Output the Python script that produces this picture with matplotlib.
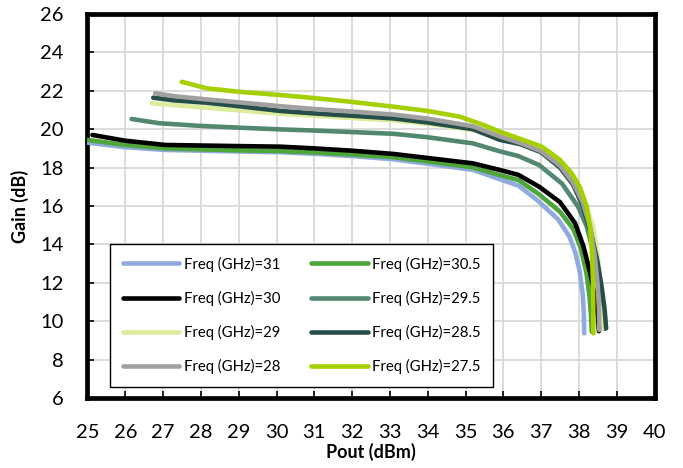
#!/usr/bin/env python3
"""
Gain vs Pout 曲线图（不同频点）

读取各频点的增益-输出功率数据，绘制压缩曲线并输出 out.png。
"""

import matplotlib

matplotlib.use("Agg")
import matplotlib.pyplot as plt

plt.rcParams["font.family"] = ["Lato", "DejaVu Sans"]

# ---------------- 数据 ----------------
freq_labels = [
    "Freq (GHz)=31",
    "Freq (GHz)=30.5",
    "Freq (GHz)=30",
    "Freq (GHz)=29.5",
    "Freq (GHz)=29",
    "Freq (GHz)=28.5",
    "Freq (GHz)=28",
    "Freq (GHz)=27.5",
]

pout_31 = [25.0, 26.0, 27.05, 28.0, 29.0, 30.1, 31.0, 32.0, 33.1, 34.0, 35.2,
           35.9, 36.4, 36.9, 37.45, 37.75, 37.9, 38.02, 38.1, 38.13, 38.14]
gain_31 = [19.3, 19.06, 18.92, 18.88, 18.84, 18.8, 18.72, 18.6, 18.43, 18.2, 17.88,
           17.4, 17.06, 16.3, 15.3, 14.4, 13.6, 12.6, 11.4, 10.4, 9.37]

pout_30p5 = [25.0, 26.0, 27.05, 28.0, 29.0, 30.1, 31.0, 32.0, 33.1, 34.0, 35.2,
             35.9, 36.4, 36.95, 37.5, 37.85, 38.05, 38.2, 38.28, 38.32, 38.34]
gain_30p5 = [19.44, 19.18, 19.0, 18.95, 18.9, 18.86, 18.79, 18.68, 18.54, 18.32, 18.01,
             17.61, 17.35, 16.6, 15.7, 14.8, 13.8, 12.5, 11.3, 10.3, 9.45]

pout_30 = [25.13, 26.0, 27.05, 28.0, 29.0, 30.1, 31.0, 32.0, 33.1, 34.0, 35.2,
           35.9, 36.4, 36.95, 37.5, 37.9, 38.12, 38.3, 38.42, 38.5, 38.53]
gain_30 = [19.7, 19.4, 19.18, 19.15, 19.12, 19.09, 19.0, 18.88, 18.71, 18.5, 18.22,
           17.88, 17.62, 17.0, 16.2, 15.1, 13.9, 12.5, 11.3, 10.3, 9.48]

pout_29p5 = [26.17, 26.9, 28.0, 29.0, 30.1, 31.0, 32.0, 33.1, 34.0, 35.2, 35.9,
             36.4, 36.95, 37.55, 37.98, 38.21, 38.4, 38.52, 38.6, 38.65, 38.68]
gain_29p5 = [20.53, 20.31, 20.17, 20.08, 19.99, 19.93, 19.85, 19.76, 19.58, 19.26, 18.85,
             18.6, 18.13, 17.17, 15.96, 14.92, 13.5, 12.2, 11.0, 10.2, 9.6]

pout_29 = [26.7, 27.3, 28.15, 29.0, 30.1, 31.0, 32.0, 33.1, 34.0, 35.2, 35.9,
           36.45, 37.0, 37.5, 37.85, 38.15, 38.38, 38.5, 38.58, 38.61, 38.63]
gain_29 = [21.35, 21.25, 21.12, 20.98, 20.8, 20.7, 20.58, 20.46, 20.28, 19.96, 19.55,
           19.25, 18.85, 18.15, 17.3, 16.2, 14.9, 13.4, 11.8, 10.6, 9.63]

pout_28p5 = [26.74, 27.3, 28.15, 29.0, 30.1, 31.0, 32.0, 33.1, 34.0, 35.2, 35.9,
             36.45, 37.0, 37.5, 37.85, 38.1, 38.32, 38.48, 38.6, 38.68, 38.72]
gain_28p5 = [21.64, 21.5, 21.38, 21.2, 20.95, 20.82, 20.7, 20.56, 20.35, 20.0, 19.45,
             19.22, 18.8, 18.0, 17.1, 16.0, 14.6, 13.2, 11.8, 10.6, 9.63]

pout_28 = [26.79, 27.3, 28.15, 29.0, 30.1, 31.0, 32.0, 33.1, 34.0, 35.2, 35.9,
           36.45, 37.0, 37.5, 37.85, 38.1, 38.3, 38.42, 38.5, 38.53, 38.54]
gain_28 = [21.87, 21.72, 21.55, 21.4, 21.2, 21.05, 20.92, 20.76, 20.55, 20.15, 19.63,
           19.28, 18.85, 18.1, 17.2, 16.2, 14.9, 13.4, 11.8, 10.6, 9.54]

pout_27p5 = [27.49, 28.15, 29.0, 30.1, 31.0, 32.0, 33.1, 34.0, 34.85, 35.5, 35.91,
             36.44, 37.02, 37.5, 37.81, 38.02, 38.21, 38.3, 38.35, 38.37, 38.38, 38.38]
gain_27p5 = [22.47, 22.13, 21.95, 21.78, 21.62, 21.42, 21.17, 20.95, 20.65, 20.2, 19.87,
             19.5, 19.09, 18.4, 17.7, 17.0, 15.96, 14.8, 13.4, 12.15, 10.8, 9.37]

x_ticks = list(range(25, 41))
y_ticks = list(range(6, 27, 2))

# ---------------- 样式 ----------------
colors = ["#8FAADC", "#4EA53A", "#000000", "#528870",
          "#DCEC9E", "#254E4A", "#A0A0A0", "#A5D000"]

series = [
    (pout_31, gain_31),
    (pout_30p5, gain_30p5),
    (pout_30, gain_30),
    (pout_29p5, gain_29p5),
    (pout_29, gain_29),
    (pout_28p5, gain_28p5),
    (pout_28, gain_28),
    (pout_27p5, gain_27p5),
]

fig = plt.figure(figsize=(6.83, 4.68), dpi=100)
ax = fig.add_axes([0.1281, 0.1496, 0.8302, 0.8205])

# 绘制曲线
handles = []
for i, (px, gy) in enumerate(series):
    (line,) = ax.plot(px, gy, color=colors[i], linewidth=3.3,
                      solid_capstyle="round", label=freq_labels[i], zorder=3 + i)
    handles.append(line)

ax.set_xlim(25, 40)
ax.set_ylim(6, 26)
ax.set_xticks(x_ticks)
ax.set_yticks(y_ticks)

ax.grid(True, color="#D9D9D9", linewidth=1.3, zorder=0)
ax.set_axisbelow(True)

for sp in ax.spines.values():
    sp.set_linewidth(3.4)
    sp.set_color("black")

ax.tick_params(axis="both", direction="in", length=5, width=1.2,
               labelsize=14.5, pad=17)
ax.tick_params(axis="x", pad=19)

ax.set_xlabel("Pout (dBm)", fontsize=13, fontweight="bold", labelpad=1)
ax.set_ylabel("Gain (dB)", fontsize=13, fontweight="bold", labelpad=8)

# 图例：两列，列序与原图一致
order = [0, 2, 4, 6, 1, 3, 5, 7]
leg = ax.legend(
    [handles[k] for k in order],
    [freq_labels[k] for k in order],
    ncol=2,
    loc="upper left",
    bbox_to_anchor=(0.0397, 0.401),
    borderaxespad=0,
    fontsize=10.7,
    handlelength=3.8,
    handletextpad=0.3,
    labelspacing=1.28,
    columnspacing=2.1,
    borderpad=0.85,
    fancybox=False,
    framealpha=1,
    edgecolor="black",
)
leg.get_frame().set_linewidth(1.0)
leg.set_zorder(20)

fig.savefig("out.png", dpi=100)
